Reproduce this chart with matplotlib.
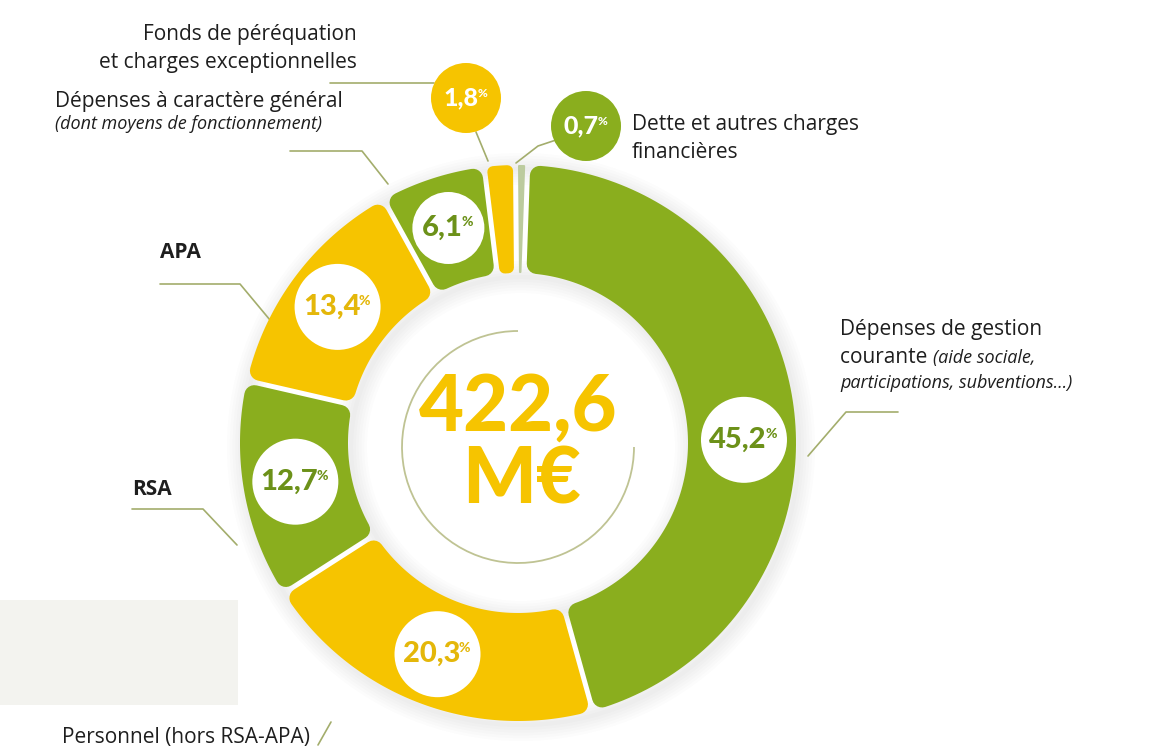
import numpy as np
import matplotlib.pyplot as plt
from matplotlib.patches import Polygon, Circle, Arc, Rectangle

plt.rcParams['font.family'] = ['Open Sans', 'DejaVu Sans']

# --- data -------------------------------------------------------------
categories = ['Dépenses de gestion courante', 'Personnel (hors RSA-APA)', 'RSA', 'APA',
              'Dépenses à caractère général',
              'Fonds de péréquation et charges exceptionnelles',
              'Dette et autres charges financières']
shares = [45.2, 20.3, 12.7, 13.4, 6.1, 1.8, 0.7]
share_text = ['45,2', '20,3', '12,7', '13,4', '6,1', '1,8', '0,7']
total_text = ['422,6', 'M€']

# --- style ------------------------------------------------------------
GREEN = '#8aae1e'
YELLOW = '#f6c400'
PALE = '#bccb9e'
DKGREEN = '#6c9119'
DKYELLOW = '#e4b70a'
LINE = '#a3ad6c'
TXT = '#1e1e1e'
slice_colors = [GREEN, YELLOW, GREEN, YELLOW, GREEN, YELLOW, PALE]
num_colors = [DKGREEN, DKYELLOW, DKGREEN, DKYELLOW, DKGREEN, 'white', 'white']
bubble_r = [43, 43, 43, 43, 36]
bubble_turn = [6, 0, 0, 0, 0]   # degrees, nudges the 45,2 bubble towards the horizontal
NUMFONT = ['Lato', 'DejaVu Sans']

CX, CY = 518, 443
R_OUT, R_IN = 278, 170
PX = 72 / 100  # points per pixel


def rounded_sector(th1, th2, r0, r1, gap=2.5, rc=10.0):
    # annular sector shrunk so that a round stroke of width 2*rc gives rounded corners
    t1, t2 = np.radians(th1), np.radians(th2)
    half = (t2 - t1) / 2
    rc = max(0.0, min(rc, (r0 * np.sin(half) - gap) * 0.8))
    h = gap + rc
    do, di = r1 - rc, r0 + rc
    ao, ai = np.arcsin(h / do), np.arcsin(h / di)
    a_out = np.linspace(t1 + ao, t2 - ao, 120)
    a_in = np.linspace(t2 - ai, t1 + ai, 120)
    pts = np.concatenate([np.c_[do * np.cos(a_out), do * np.sin(a_out)],
                          np.c_[di * np.cos(a_in), di * np.sin(a_in)]])
    return pts + [CX, CY], rc


def pct_label(x, y, num, color, size):
    t = ax.text(x - size * 0.28, y, num, ha='center', va='center', fontsize=size,
                fontweight='black', color=color, family=NUMFONT, zorder=5)
    ax.annotate('%', xy=(0.97, 0.95), xycoords=t, ha='left', va='top',
                fontsize=size * 0.48, fontweight='black', color=color, family=NUMFONT,
                zorder=5)


fig = plt.figure(figsize=(11.56, 7.53), dpi=100)
ax = fig.add_axes([0, 0, 1, 1])

# scan-like grey patch in the lower left corner
ax.add_patch(Rectangle((0, 600), 238, 105, color='#f3f3ef', lw=0, zorder=0))

# donut: y axis points down, so counterclock in data = clockwise on screen
wedges, _ = ax.pie(shares, startangle=-88, counterclock=True, center=(CX, CY),
                   radius=R_OUT, colors=slice_colors,
                   wedgeprops=dict(width=R_OUT - R_IN))
ax.set_xlim(0, 1156)
ax.set_ylim(753, 0)
ax.axis('off')

# soft shadow around the ring
for lw in [3, 7, 11, 15, 19, 23]:
    ax.add_patch(Circle((CX + 3, CY + 4), R_OUT, fill=False, ec='#707070',
                        alpha=0.02, lw=lw, zorder=1))
    ax.add_patch(Circle((CX + 3, CY + 4), R_IN, fill=False, ec='#707070',
                        alpha=0.02, lw=lw, zorder=1))

mids = []
for w, c in zip(wedges, slice_colors):
    pts, rc = rounded_sector(w.theta1, w.theta2, R_IN, R_OUT)
    ax.add_patch(Polygon(pts, closed=True, fc=c, ec=c, lw=2 * rc * PX,
                         joinstyle='round', zorder=2))
    mids.append((w.theta1 + w.theta2) / 2)
    w.remove()

# percentage bubbles inside the ring
r_mid = (R_OUT + R_IN) / 2 + 2
for i in range(5):
    a = np.radians(mids[i] + bubble_turn[i])
    bx = CX + r_mid * np.cos(a)
    by = CY + r_mid * np.sin(a)
    ax.add_patch(Circle((bx, by), bubble_r[i], fc='white', ec='none', zorder=3))
    pct_label(bx, by, share_text[i], num_colors[i], 21)

# the two small shares sit in coloured bubbles above the ring
small_pos = [(466, 98), (586, 126)]
small_fc = [YELLOW, GREEN]
for i, (bx, by), fc in zip([5, 6], small_pos, small_fc):
    ax.add_patch(Circle((bx, by), 35, fc=fc, ec='none', zorder=3))
    pct_label(bx, by, share_text[i], 'white', 18)

# total in the middle
ax.add_patch(Arc((CX, CY + 4), 232, 232, theta1=0, theta2=270,
                 color='#bfc393', lw=1.3, zorder=2))
ax.text(CX, CY - 35, total_text[0], ha='center', va='center', fontsize=56,
        fontweight='black', color=YELLOW, family=NUMFONT)
ax.text(CX + 4, CY + 38, total_text[1], ha='center', va='center', fontsize=56,
        fontweight='black', color=YELLOW, family=NUMFONT)

# leader lines
leaders = [
    [(898, 412), (846, 412), (808, 456)],      # gestion courante
    [(318, 745), (331, 722)],                  # personnel
    [(132, 509), (203, 509), (237, 545)],      # RSA
    [(160, 284), (240, 284), (270, 320)],      # APA
    [(290, 151), (362, 151), (388, 184)],      # caractere general
    [(330, 83), (434, 83)],                    # fonds (to bubble)
    [(476, 132), (488, 161)],                  # fonds (bubble to slice)
    [(556, 140), (538, 146), (516, 163)],      # dette
]
for pts in leaders:
    xs, ys = zip(*pts)
    ax.plot(xs, ys, color=LINE, lw=1.2, solid_capstyle='round', zorder=1)

# category labels
fs = 15
kw = dict(fontsize=fs, color=TXT, fontweight='medium')
ikw = dict(fontsize=13, color=TXT, style='italic')
ax.text(357, 34, 'Fonds de péréquation', ha='right', va='center', **kw)
ax.text(357, 62, 'et charges exceptionnelles', ha='right', va='center', **kw)
ax.text(55, 101, 'Dépenses à caractère général', ha='left', va='center', **kw)
ax.text(55, 124, '(dont moyens de fonctionnement)', ha='left', va='center', **ikw)
ax.text(632, 124, 'Dette et autres charges', ha='left', va='center', **kw)
ax.text(632, 152, 'financières', ha='left', va='center', **kw)
ax.text(160, 252, 'APA', ha='left', va='center', fontsize=fs, fontweight='bold', color=TXT)
ax.text(132, 489, 'RSA', ha='left', va='center', fontsize=fs, fontweight='bold', color=TXT)
ax.text(62, 737, 'Personnel (hors RSA-APA)', ha='left', va='center', **kw)
ax.text(840, 329, 'Dépenses de gestion', ha='left', va='center', **kw)
t = ax.text(840, 357, 'courante ', ha='left', va='center', **kw)
ax.annotate('(aide sociale,', xy=(1.0, 0.45), xycoords=t, ha='left', va='center', **ikw)
ax.text(840, 383, 'participations, subventions...)', ha='left', va='center', **ikw)

plt.savefig('out.png', dpi=100)
